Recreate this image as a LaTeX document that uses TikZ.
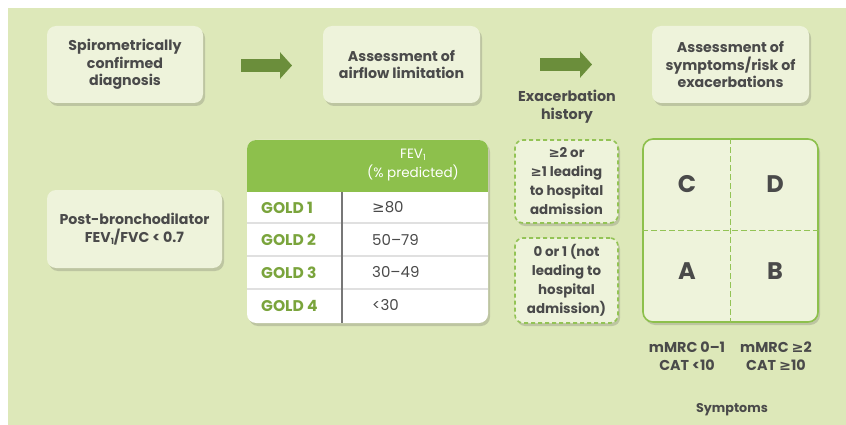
\documentclass[tikz,border=0pt]{standalone}
\usepackage{fontspec}
\setmainfont{Poppins}
\newfontfamily\symfont{DejaVu Sans}
\usetikzlibrary{shadows,arrows.meta,calc}
\definecolor{bg}{HTML}{DDE8B9}
\definecolor{boxfill}{HTML}{EEF3DB}
\definecolor{txt}{HTML}{4A4A4A}
\definecolor{darkgreen}{HTML}{6B8E3B}
\definecolor{hdr}{HTML}{8DC04C}
\definecolor{goldtxt}{HTML}{7AA43C}
\definecolor{dashc}{HTML}{93C355}
\newcommand{\gq}{{\symfont ≥}}
\newcommand{\sone}{\raisebox{-2.5pt}{\fontsize{8.5}{8.5}\selectfont 1}}
\begin{document}
\begin{tikzpicture}[x=1pt,y=-1pt,
  shad/.style={drop shadow={shadow xshift=2pt,shadow yshift=-3pt,opacity=0.22,fill=black!70}},
  card/.style={rounded corners=9pt,fill=boxfill,shad,align=center,text=txt,
    font=\bfseries\fontsize{14.2}{17.5}\selectfont,inner sep=0pt},
  dbox/.style={rounded corners=8pt,fill=boxfill,draw=dashc,dashed,dash pattern=on 4pt off 3pt,
    line width=1.6pt,shad,align=center,text=txt,font=\bfseries\fontsize{13.4}{19}\selectfont,
    minimum width=103pt,inner sep=0pt},
  lbl/.style={align=center,text=txt,font=\bfseries\fontsize{14.3}{18}\selectfont,inner sep=0pt},
  bigarrow/.style={darkgreen,line width=13pt,-{Triangle[length=12pt,width=26pt]}},
  gold/.style={text=goldtxt,font=\bfseries\fontsize{15.5}{16}\selectfont,anchor=west,inner sep=0pt},
  val/.style={text=txt,font=\fontsize{15}{16}\selectfont,anchor=west,inner sep=0pt},
  letter/.style={text=txt,font=\bfseries\fontsize{24}{28}\selectfont,inner sep=0pt}]
\useasboundingbox (0,0) rectangle (846,425);
\fill[white] (0,0) rectangle (846,425);
\fill[bg] (8,8) rectangle (846,425);
% top row
\node[card,minimum width=156pt,minimum height=77pt] (b1) at (125,64.5)
  {Spirometrically\\confirmed\\diagnosis};
\node[card,minimum width=157pt,minimum height=77pt] (b2) at (401.5,64.5)
  {Assessment of\\airflow limitation};
\node[card,minimum width=157pt,minimum height=77pt] (b3) at (730.5,64.5)
  {Assessment of\\symptoms/risk of\\exacerbations};
\coordinate (a1s) at (241,65.5); \coordinate (a1e) at (292,65.5);
\coordinate (a2s) at (540,64.5); \coordinate (a2e) at (592,64.5);
\draw[bigarrow] (a1s) -- (a1e);
\draw[bigarrow] (a2s) -- (a2e);
\node[lbl] (exh) at (567,107) {Exacerbation\\history};
% left box
\node[card,minimum width=175pt,minimum height=78pt] (b4) at (134.5,229)
  {Post-bronchodilator\\FEV\sone/FVC < 0.7};
% table
\node[fill=white,rounded corners=9pt,shad,minimum width=241pt,minimum height=183pt,inner sep=0pt] (tab) at (367.5,231.5) {};
\begin{scope}
\clip[rounded corners=9pt] (247,140) rectangle (488,323);
\fill[hdr] (247,140) rectangle (488,192);
\end{scope}
\draw[black!12,line width=1.5pt] (247,223) -- (488,223) (247,256) -- (488,256) (247,289) -- (488,289);
\draw[txt!75,line width=1.3pt] (342,192) -- (342,323);
\node[text=white,font=\fontsize{13.5}{14}\selectfont,inner sep=0pt] (fev) at (413,155) {FEV\sone};
\node[text=white,font=\fontsize{13.5}{14}\selectfont,inner sep=0pt] (pred) at (413,173) {(\% predicted)};
\node[gold] (g1) at (261,207.5) {GOLD 1};
\node[gold] (g2) at (261,239.5) {GOLD 2};
\node[gold] (g3) at (261,272.5) {GOLD 3};
\node[gold] (g4) at (261,305.5) {GOLD 4};
\node[val] (v1) at (372,207.5) {\gq80};
\node[val] (v2) at (372,239.5) {50–79};
\node[val] (v3) at (372,272.5) {30–49};
\node[val] (v4) at (372,305.5) {<30};
% dashed boxes
\node[dbox,minimum height=83pt] (d1) at (566.5,181.5) {\gq2 or\\\gq1 leading\\to hospital\\admission};
\node[dbox,minimum height=85pt] (d2) at (566.5,280.5) {0 or 1 (not\\leading to\\hospital\\admission)};
% grid
\node[fill=boxfill,draw=hdr,line width=1.6pt,rounded corners=10pt,shad,minimum width=175pt,minimum height=183pt,inner sep=0pt] (grid) at (730.5,230.5) {};
\draw[dashc,line width=1.6pt,dash pattern=on 6pt off 3pt] (grid.north) -- (grid.south);
\draw[dashc,line width=1.6pt,dash pattern=on 6pt off 3pt] (grid.west) -- (grid.east);
\node[letter] (C) at (687,184) {C};
\node[letter] (D) at (775,184) {D};
\node[letter] (A) at (687,271) {A};
\node[letter] (B) at (775,271) {B};
\node[lbl] (s1) at (687,356.5) {mMRC 0–1\\CAT <10};
\node[lbl] (s2) at (776,356.5) {mMRC \gq2\\CAT \gq10};
\node[lbl,font=\bfseries\fontsize{12.7}{14}\selectfont] (sym) at (732,410) {Symptoms};
\end{tikzpicture}
\end{document}
